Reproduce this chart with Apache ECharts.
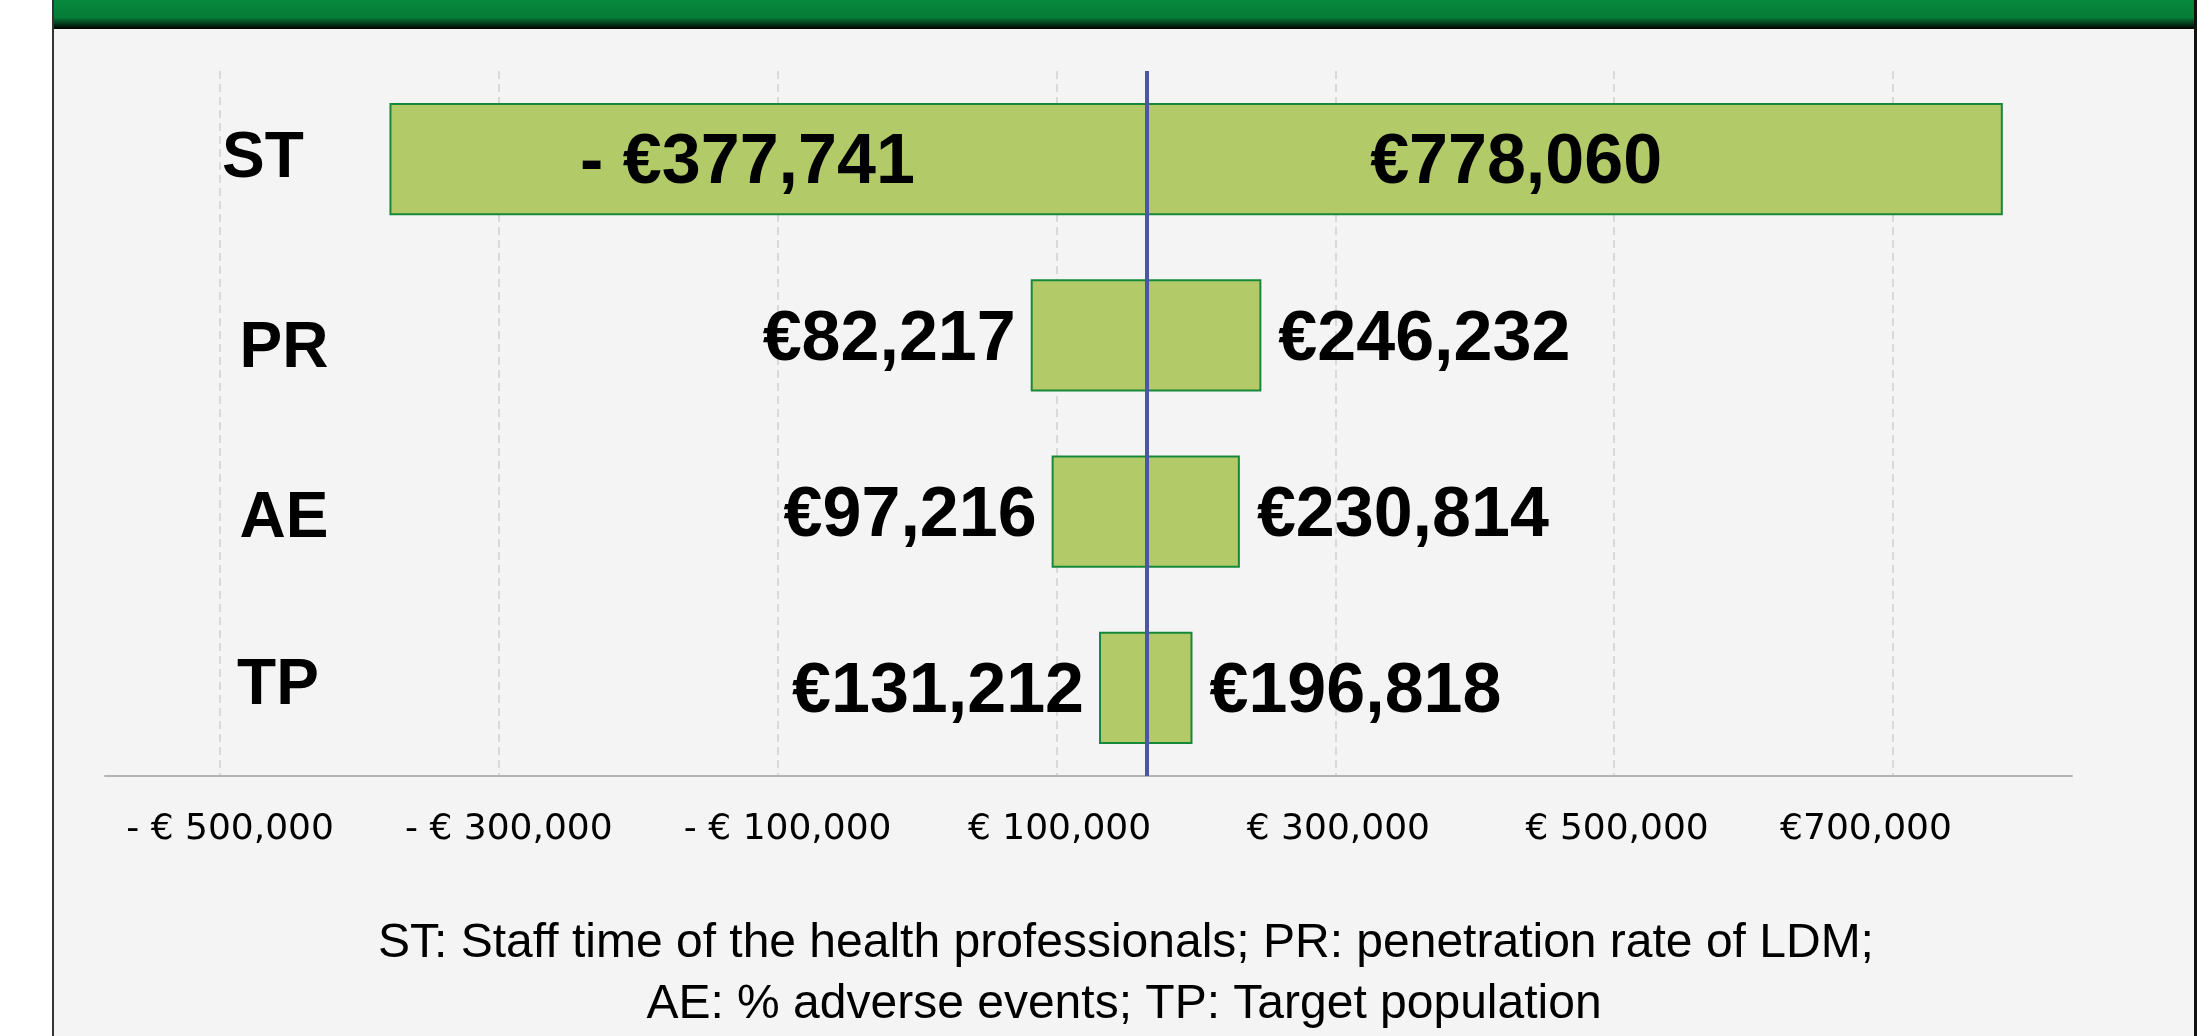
<!DOCTYPE html>
<html>
<head>
<meta charset="utf-8">
<title>Tornado diagram</title>
<script src="https://cdn.jsdelivr.net/npm/echarts@6/dist/echarts.min.js"></script>
<style>
  html, body { margin: 0; padding: 0; background: #fff; }
  #chart { width: 2197px; height: 1036px; }
</style>
</head>
<body>
<div id="chart"></div>
<script>
const categories = ['ST', 'PR', 'AE', 'TP']
const lowValues = [-377741, 82217, 97216, 131212]
const highValues = [778060, 246232, 230814, 196818]
const baseValue = 164500
const tickValues = [-500000, -300000, -100000, 100000, 300000, 500000, 700000]
const tickLabels = ['- € 500,000', '- € 300,000', '- € 100,000', '€ 100,000', '€ 300,000', '€ 500,000', '€700,000']
const footnote = [
  'ST: Staff time of the health professionals; PR: penetration rate of LDM;',
  'AE: % adverse events; TP: Target population'
]

function euro(v) {
  return (v < 0 ? '- ' : '') + '€' + Math.abs(v).toLocaleString('en-US')
}

const chart = echarts.init(document.getElementById('chart'))

const valueLabel = {
  fill: '#000',
  fontSize: 70,
  fontWeight: 'bold',
  fontFamily: '"Liberation Sans", Arial, sans-serif',
  verticalAlign: 'middle'
}

// the hand placed category labels of the original slide sit a little off centre
const catPads = [[0, 28, 0, 0], [28, 0, 0, 14], [16, 0, 0, 14], [0, 0, 4, 2]]
const catRich = {}
catPads.forEach((p, i) => {
  catRich['c' + i] = { padding: p, fontSize: 64, fontWeight: 'bold', color: '#000', fontFamily: '"Liberation Sans", Arial, sans-serif' }
})

const tickFont = { fontSize: 36, color: '#000', fontFamily: '"DejaVu Sans", sans-serif' }

const option = {
  animation: false,
  graphic: [
    // slide panel
    { type: 'rect', z: -10, shape: { x: 53, y: 0, width: 2142, height: 1036 }, style: { fill: '#f4f4f4' } },
    {
      type: 'rect', z: -9,
      shape: { x: 53, y: 0, width: 2144, height: 29 },
      style: {
        fill: new echarts.graphic.LinearGradient(0, 0, 0, 1, [
          { offset: 0, color: '#078a3c' },
          { offset: 0.6, color: '#067c37' },
          { offset: 1, color: '#000' }
        ])
      }
    },
    { type: 'line', z: -8, shape: { x1: 53, y1: 0, x2: 53, y2: 1036 }, style: { stroke: '#333', lineWidth: 2 } },
    { type: 'line', z: -8, shape: { x1: 2195.5, y1: 0, x2: 2195.5, y2: 1036 }, style: { stroke: '#111', lineWidth: 3 } },
    {
      type: 'text', x: 1126, y: 944,
      style: { text: footnote[0], fill: '#000', fontSize: 48, fontFamily: '"Liberation Sans", Arial', align: 'center', verticalAlign: 'middle' }
    },
    {
      type: 'text', x: 1124, y: 1005,
      style: { text: footnote[1], fill: '#000', fontSize: 48, fontFamily: '"Liberation Sans", Arial', align: 'center', verticalAlign: 'middle' }
    }
  ],
  grid: {
    left: 105,
    right: 125,
    top: 71,
    bottom: 260
  },
  xAxis: {
    type: 'value',
    min: -582500,
    max: 828400,
    axisLine: { show: true, onZero: false, lineStyle: { color: '#b4b4b4', width: 2 } },
    axisTick: { show: false, customValues: tickValues },
    axisLabel: {
      customValues: tickValues,
      formatter: function (v) {
        const i = tickValues.findIndex((t) => Math.abs(t - v) < 1)
        if (i < 0) return ''
        const style = tickValues[i] < 0 ? 'neg' : (i === tickValues.length - 1 ? 'last' : 'pos')
        return '{' + style + '|' + tickLabels[i] + '}'
      },
      margin: 36,
      rich: {
        neg: Object.assign({ padding: [0, 0, 0, 20] }, tickFont),
        pos: Object.assign({ padding: [0, 0, 0, 6] }, tickFont),
        last: Object.assign({ padding: [0, 54, 0, 0] }, tickFont)
      }
    },
    splitLine: {
      show: true,
      lineStyle: { color: '#d9d9d9', width: 2, type: [8, 5] }
    }
  },
  yAxis: {
    type: 'category',
    data: categories,
    inverse: true,
    axisLine: { show: false },
    axisTick: { show: false },
    splitLine: { show: false },
    axisLabel: {
      inside: true,
      align: 'center',
      margin: 172,
      formatter: function (name, i) {
        return '{c' + i + '|' + name + '}'
      },
      rich: catRich
    }
  },
  series: [
    {
      type: 'custom',
      encode: { x: [1, 2], y: 0 },
      data: categories.map((c, i) => [i, lowValues[i], highValues[i]]),
      renderItem: function (params, api) {
        const idx = api.value(0)
        const low = api.value(1)
        const high = api.value(2)
        const pLow = api.coord([low, idx])
        const pHigh = api.coord([high, idx])
        const pBase = api.coord([baseValue, idx])
        const h = api.size([0, 1])[1] * 0.625
        const y = pLow[1]
        const ty = y + 5
        const children = [
          {
            type: 'rect',
            shape: { x: pLow[0], y: y - h / 2, width: pHigh[0] - pLow[0], height: h },
            style: { fill: '#b2cb68', stroke: '#17883a', lineWidth: 2 }
          }
        ]
        const wide = pBase[0] - pLow[0] > 500
        if (wide) {
          // labels sit inside the bar
          children.push({
            type: 'text', x: (pLow[0] + pBase[0]) / 2 - 21, y: ty,
            style: Object.assign({ text: euro(low), align: 'center' }, valueLabel)
          })
          children.push({
            type: 'text', x: (pBase[0] + pHigh[0]) / 2 - 58, y: ty,
            style: Object.assign({ text: euro(high), align: 'center' }, valueLabel)
          })
        } else {
          children.push({
            type: 'text', x: pLow[0] - 16, y: ty,
            style: Object.assign({ text: euro(low), align: 'right' }, valueLabel)
          })
          children.push({
            type: 'text', x: pHigh[0] + 18, y: ty,
            style: Object.assign({ text: euro(high), align: 'left' }, valueLabel)
          })
        }
        return { type: 'group', children: children }
      },
      markLine: {
        silent: true,
        symbol: 'none',
        label: { show: false },
        lineStyle: { color: '#4d56a6', width: 4, type: 'solid' },
        data: [{ xAxis: baseValue }]
      }
    }
  ]
}

chart.setOption(option)
</script>
</body>
</html>
